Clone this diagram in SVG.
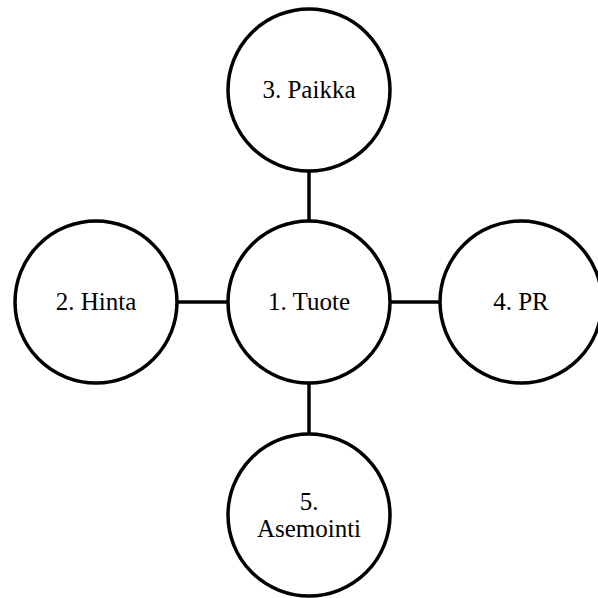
<svg xmlns="http://www.w3.org/2000/svg" width="598" height="598" viewBox="0 0 598 598">
<style>
.n{fill:#fff;stroke:#000;stroke-width:3.5}
.c{stroke:#000;stroke-width:3.5;fill:none}
text{font-family:"Liberation Serif","Times New Roman",serif;font-size:25px;fill:#000;text-anchor:middle}
</style>
<rect width="598" height="598" fill="#fff"/>
<g id="connectors">
<line class="c" x1="309" y1="171" x2="309" y2="221"/>
<line class="c" x1="177" y1="302" x2="228" y2="302"/>
<line class="c" x1="390" y1="302" x2="440" y2="302"/>
<line class="c" x1="309" y1="383" x2="309" y2="434"/>
</g>
<g id="n1"><circle class="n" cx="309" cy="302" r="81"/><text x="309" y="310">1. Tuote</text></g>
<g id="n2"><circle class="n" cx="96" cy="302" r="81"/><text x="96" y="310">2. Hinta</text></g>
<g id="n3"><circle class="n" cx="309" cy="90" r="81"/><text x="309" y="98">3. Paikka</text></g>
<g id="n4"><circle class="n" cx="521" cy="302" r="81"/><text x="521" y="310">4. PR</text></g>
<g id="n5"><circle class="n" cx="309" cy="515" r="81"/><text x="309" y="510">5.</text><text x="309" y="537">Asemointi</text></g>
</svg>
